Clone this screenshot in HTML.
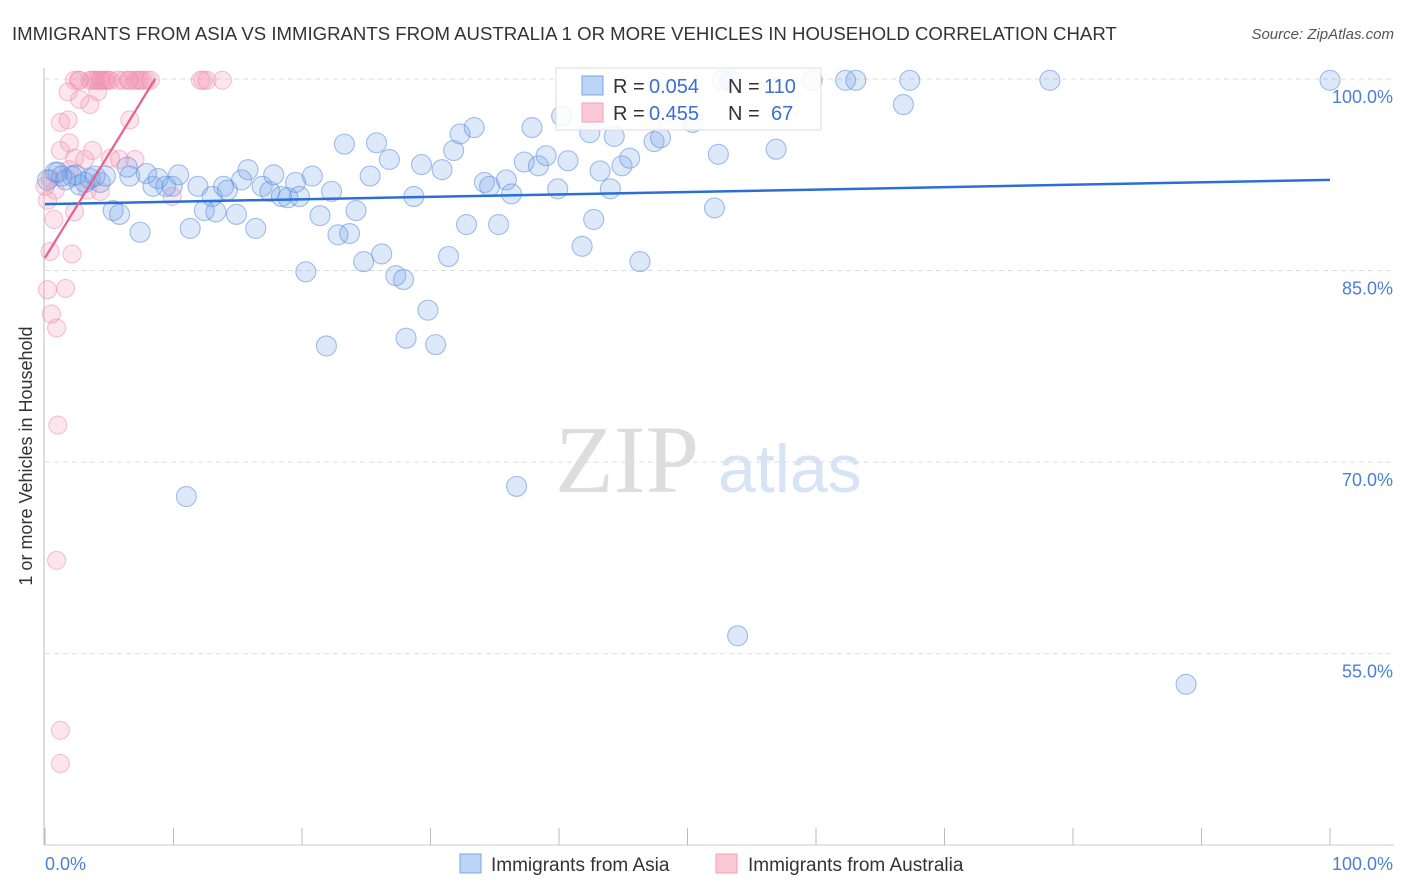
<!DOCTYPE html>
<html><head><meta charset="utf-8"><style>
body{margin:0;background:#fff;font-family:"Liberation Sans",sans-serif;}
#c{position:relative;width:1406px;height:892px;overflow:hidden}
</style></head><body>
<div id="c">
<svg id="s" width="1406" height="892" xmlns="http://www.w3.org/2000/svg">
<text x="12" y="40" font-size="18.6" fill="#333">IMMIGRANTS FROM ASIA VS IMMIGRANTS FROM AUSTRALIA 1 OR MORE VEHICLES IN HOUSEHOLD CORRELATION CHART</text>
<text x="1394" y="39" font-size="15" fill="#555" font-style="italic" text-anchor="end">Source: ZipAtlas.com</text>
<text x="32" y="456" font-size="18" fill="#333" text-anchor="middle" transform="rotate(-90 32 456)">1 or more Vehicles in Household</text>
<text x="555" y="492" font-size="96" fill="#ddd" font-family="Liberation Serif,serif">ZIP</text>
<text x="718" y="492" font-size="68" fill="#d6e4f5">atlas</text>
<g id="grid"></g><g id="pts"></g><g id="lines"></g>
<g>
<rect x="556" y="68" width="265" height="62" fill="#fff" fill-opacity="0.85" stroke="#ddd"/>
<rect x="582" y="76" width="21" height="19" fill="#bcd4f5" stroke="#7aa6e6"/>
<rect x="582" y="103" width="21" height="19" fill="#fbc8d6" stroke="#f0a0b8"/>
<text x="613" y="93" font-size="20" fill="#333">R =</text>
<text x="649" y="93" font-size="20" fill="#3b6fd4">0.054</text>
<text x="728" y="93" font-size="20" fill="#333">N =</text>
<text x="764" y="93" font-size="20" fill="#3b6fd4">110</text>
<text x="613" y="120" font-size="20" fill="#333">R =</text>
<text x="649" y="120" font-size="20" fill="#3b6fd4">0.455</text>
<text x="728" y="120" font-size="20" fill="#333">N =</text>
<text x="771" y="120" font-size="20" fill="#3b6fd4">67</text>
</g>
<g>
<rect x="460" y="854" width="21" height="19" fill="#bcd4f5" stroke="#7aa6e6"/>
<text x="491" y="871" font-size="19" fill="#333">Immigrants from Asia</text>
<rect x="716" y="854" width="21" height="19" fill="#fbc8d6" stroke="#f0a0b8"/>
<text x="748" y="871" font-size="19" fill="#333">Immigrants from Australia</text>
</g>
</svg></div>
<script>
const blueX=[0.8,1.3,2.1,2.7,3.5,4.3,5.3,5.8,6.6,7.4,7.9,8.4,8.8,9.4,9.9,10.4,11.0,11.3,11.9,12.4,13.0,13.3,13.9,14.2,14.9,15.3,15.8,16.4,16.9,17.5,17.8,18.4,18.9,19.5,19.8,20.3,20.8,21.4,21.9,22.3,22.8,23.3,23.7,24.2,24.8,25.3,25.8,26.2,26.8,27.3,27.9,28.1,28.7,29.3,29.8,30.4,30.9,31.4,31.8,32.3,32.8,33.4,34.2,34.6,35.3,35.9,36.3,36.7,37.3,37.9,38.4,39.0,39.9,40.2,40.7,41.8,42.4,42.7,43.2,44.0,44.3,44.9,45.5,46.3,47.4,47.9,50.4,52.1,52.4,52.7,53.3,53.9,56.9,59.7,62.3,63.1,66.8,67.3,78.2,88.8,100,0.2,1.0,1.6,2.4,3.1,3.9,4.7,6.4];
const blueY=[92.7,92.4,92.4,91.7,92.2,91.9,89.7,89.4,92.4,88.0,92.6,91.6,92.2,91.6,91.6,92.5,67.3,88.3,91.6,89.7,90.8,89.6,91.6,91.3,89.4,92.1,92.9,88.3,91.6,91.2,92.5,90.8,90.7,91.9,90.8,84.9,92.4,89.3,79.1,91.2,87.8,94.9,87.9,89.7,85.7,92.4,95.0,86.3,93.7,84.6,84.3,79.7,90.8,93.3,81.9,79.2,92.9,86.1,94.4,95.7,88.6,96.2,91.9,91.6,88.6,92.1,91.0,68.1,93.5,96.2,93.2,94.0,91.4,97.1,93.6,86.9,95.8,89.0,92.8,91.4,95.5,93.2,93.8,85.7,95.1,95.4,96.6,89.9,94.1,99.9,99.9,56.4,94.5,99.9,99.9,99.9,98.0,99.9,99.9,52.6,99.9,92.1,92.7,92.1,92.5,91.9,92.4,92.4,93.1];
const pinkX=[2.3,2.6,2.7,3.5,3.7,3.9,4.1,4.3,4.4,4.6,4.7,4.9,5.1,5.7,6.1,6.5,6.6,7.0,7.2,7.4,7.6,7.9,8.2,12.1,12.3,12.6,13.8,4.1,2.7,3.5,1.8,1.2,6.6,1.2,1.9,2.3,3.1,1.9,0.4,0.8,0.2,2.3,0.7,5.1,5.8,7.0,3.3,2.1,0.4,0.2,1.6,0.5,0.9,1.0,0.9,1.2,1.2,4.3,9.9,0,3.7,1.8];
const pinkY=[99.9,99.9,99.9,99.9,99.9,99.9,99.9,99.9,99.9,99.9,99.9,99.9,99.9,99.9,99.9,99.9,99.9,99.9,99.9,99.9,99.9,99.9,99.9,99.9,99.9,99.9,99.9,99.0,98.4,98.0,96.8,96.6,96.8,94.4,95.0,93.8,93.7,92.9,92.2,91.3,90.5,89.6,89.0,93.8,93.7,93.7,91.3,86.3,86.5,83.5,83.6,81.6,80.5,72.9,62.3,49.0,46.4,91.2,90.8,91.6,94.4,99.0];
const blueLine=[90.2,92.1];
const pinkLine=[86.0,100,8.56];
const yTicks=[100,85,70,55];
const yTickLabels=["100.0%","85.0%","70.0%","55.0%"];
const xTickCount=10;
const X=v=>45+v*12.85, Y=v=>79+(100-v)*12.77;
const NS="http://www.w3.org/2000/svg";
function mk(t,a,p){const e=document.createElementNS(NS,t);for(const k in a)e.setAttribute(k,a[k]);p.appendChild(e);return e;}
const g=document.getElementById('grid'),P=document.getElementById('pts'),L=document.getElementById('lines');
yTicks.forEach((t,i)=>{
 const l=mk('line',{x1:45,x2:1394,y1:Y(t),y2:Y(t),stroke:'#ddd','stroke-dasharray':'5,4'},g);
 
 
 const tx=mk('text',{x:1393,y:Y(t)+24,'font-size':18,fill:'#4a7fd8','text-anchor':'end'},g);
 tx.textContent=yTickLabels[i];
 
 
});
const ax=mk('line',{x1:44,x2:44,y1:68,y2:845,stroke:'#bbb'},g);


const bx=mk('line',{x1:44,x2:1394,y1:845,y2:845,stroke:'#ccc'},g);


for(let i=0;i<=xTickCount;i++){
 const x=X(i*100/xTickCount);
 const t=mk('line',{x1:x,x2:x,y1:828,y2:845,stroke:'#bbb'},g);
 
 
}
const x0=mk('text',{x:45,y:870,'font-size':18,fill:'#4a7fd8'},g);x0.textContent='0.0%';


const x1=mk('text',{x:1393,y:870,'font-size':18,fill:'#4a7fd8','text-anchor':'end'},g);x1.textContent='100.0%';


pinkX.forEach((v,i)=>{
 const c=mk('circle',{cx:X(v),cy:Y(pinkY[i]),r:9,fill:'rgba(244,150,178,0.25)',stroke:'rgba(236,140,172,0.5)','stroke-width':1.1},P);
 
 
});
blueX.forEach((v,i)=>{
 const c=mk('circle',{cx:X(v),cy:Y(blueY[i]),r:10,fill:'rgba(120,165,232,0.25)',stroke:'rgba(90,140,222,0.55)','stroke-width':1.1},P);
 
 
});
const bl=mk('line',{x1:X(0),y1:Y(blueLine[0]),x2:X(100),y2:Y(blueLine[1]),stroke:'#2a6fd6','stroke-width':2.5},L);


const pl=mk('line',{x1:X(0),y1:Y(pinkLine[0]),x2:X(pinkLine[2]),y2:Y(pinkLine[1]),stroke:'#e8608a','stroke-width':2.2},L);


</script>
</body></html>
